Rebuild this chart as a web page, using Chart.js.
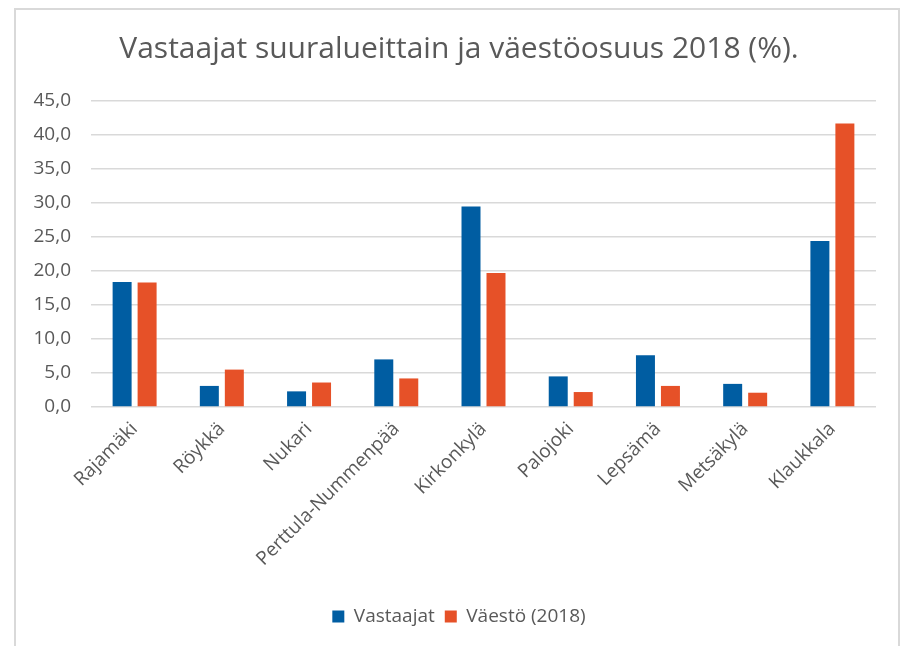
<!DOCTYPE html>
<html>
<head>
<meta charset="utf-8">
<script src="https://cdn.jsdelivr.net/npm/chart.js@4"></script>
<style>
  html, body { margin: 0; padding: 0; background: #fff; }
  #wrap { position: relative; width: 903px; height: 646px; }
  #frame { position: absolute; left: 14px; top: 8px; width: 886px; height: 660px; border: 2px solid #d9d9d9; box-sizing: border-box; pointer-events: none; }
  canvas { position: absolute; left: 0; top: 0; }
</style>
</head>
<body>
<div id="wrap">
  <canvas id="c" width="903" height="646"></canvas>
  <div id="frame"></div>
</div>
<script>
const titleText = 'Vastaajat suuralueittain ja väestöosuus 2018 (%).';
const categories = ['Rajamäki', 'Röykkä', 'Nukari', 'Perttula-Nummenpää', 'Kirkonkylä', 'Palojoki', 'Lepsämä', 'Metsäkylä', 'Klaukkala'];
const seriesNames = ['Vastaajat', 'Väestö (2018)'];
const vastaajat = [18.4, 3.1, 2.3, 7.0, 29.5, 4.5, 7.6, 3.4, 24.4];
const vaesto = [18.3, 5.5, 3.6, 4.2, 19.7, 2.2, 3.1, 2.1, 41.7];
const yMin = 0, yMax = 45, yStep = 5;

const FONT = '"Open Sans", Lato, sans-serif';
const TXT = '#595959';

new Chart(document.getElementById('c'), {
  type: 'bar',
  data: {
    labels: categories,
    datasets: [
      { label: seriesNames[0], data: vastaajat, backgroundColor: '#005DA2', categoryPercentage: 0.573, barPercentage: 0.76, yAxisID: 'y' },
      { label: seriesNames[1], data: vaesto, backgroundColor: '#E65128', categoryPercentage: 0.573, barPercentage: 0.76, yAxisID: 'y' }
    ]
  },
  options: {
    responsive: false,
    animation: false,
    layout: { padding: { left: 15, right: 0, top: 8, bottom: 10 } },
    plugins: {
      title: {
        display: true, text: titleText, color: TXT,
        font: { family: FONT, size: 30, weight: 'normal' },
        padding: { top: 23, bottom: 34 }
      },
      legend: {
        position: 'bottom',
        labels: {
          color: TXT, font: { family: FONT, size: 19 },
          boxWidth: 12, boxHeight: 12, padding: 10
        }
      },
      tooltip: { enabled: false }
    },
    scales: {
      x: {
        grid: { display: false },
        border: { display: false },
        ticks: { color: TXT, font: { family: FONT, size: 19 }, minRotation: 45, maxRotation: 45, padding: 3 },
        afterFit: s => { s.height = 190; }
      },
      y: {
        min: yMin, max: yMax,
        border: { display: false },
        grid: { color: '#d9d9d9', lineWidth: 1.5, drawTicks: false },
        ticks: {
          stepSize: yStep, color: TXT, font: { family: FONT, size: 19 }, padding: 20,
          callback: v => v.toFixed(1).replace('.', ',')
        },
        afterFit: s => { s.width = 76; }
      },
      yRight: {
        position: 'right',
        display: true,
        border: { display: false },
        grid: { display: false, drawTicks: false },
        ticks: { display: false },
        afterFit: s => { s.width = 27; }
      }
    }
  }
});
</script>
</body>
</html>
